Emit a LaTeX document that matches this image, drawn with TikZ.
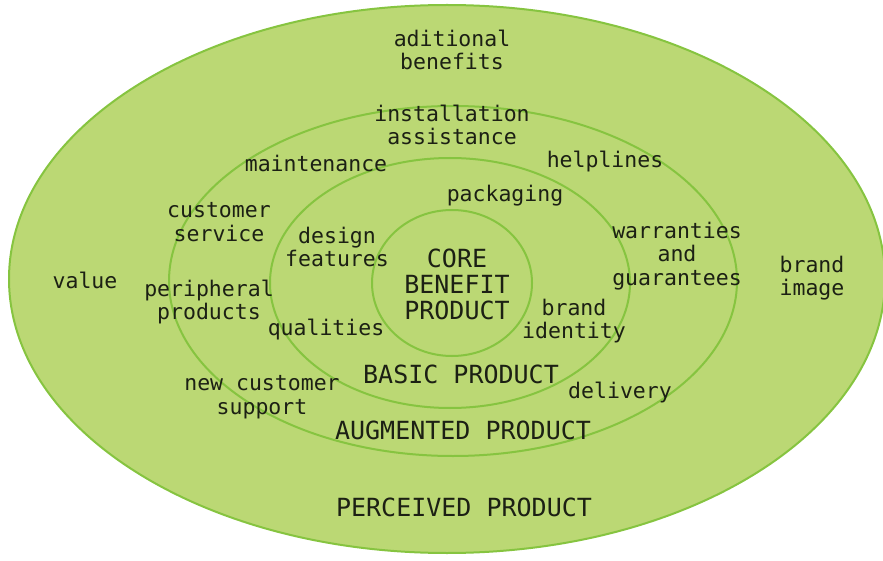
\documentclass[tikz,border=0pt]{standalone}
\usepackage{fontspec}
\newfontfamily\labelfont{DejaVu Sans Mono}
\definecolor{ringfill}{RGB}{187,216,116}
\definecolor{ringline}{RGB}{134,196,64}
\definecolor{inktext}{RGB}{28,32,20}

\begin{document}
\begin{tikzpicture}[x=1pt,y=-1pt,
ring/.style={draw=ringline,line width=2pt},
lbl/.style={inner sep=0pt,align=center,text=inktext,
  font=\labelfont\fontsize{21.5}{23.5}\selectfont},
biglbl/.style={inner sep=0pt,align=center,text=inktext,
  font=\labelfont\fontsize{25}{26}\selectfont}]
\useasboundingbox (0,0) rectangle (883,561);
% rings, outside in
\draw[ring,fill=ringfill] (447,279) ellipse [x radius=438pt,y radius=274pt];
\draw[ring] (453,281) ellipse [x radius=284pt,y radius=175pt];
\draw[ring] (450,283) ellipse [x radius=180pt,y radius=125pt];
\draw[ring] (452,283) ellipse [x radius=80pt,y radius=73pt];

\node[lbl] (aditional) at (452,50) {aditional\\benefits};
\node[lbl] (install) at (452,125) {installation\\assistance};
\node[lbl] (maint) at (316,163) {maintenance};
\node[lbl] (help) at (605,162) {helplines};
\node[lbl] (pack) at (505,196) {packaging};
\node[lbl] (custserv) at (219,222) {customer\\service};
\node[lbl] (design) at (337,247) {design\\features};
\node[biglbl] (core) at (457,284) {CORE\\BENEFIT\\PRODUCT};
\node[lbl] (warr) at (677,256) {warranties\\and\\guarantees};
\node[lbl] (brandimg) at (812,278) {brand\\image};
\node[lbl] (value) at (85,280) {value};
\node[lbl] (periph) at (209,302) {peripheral\\products};
\node[lbl] (qual) at (326,330) {qualities};
\node[lbl] (brandid) at (574,321) {brand\\identity};
\node[biglbl] (basic) at (461,374) {BASIC PRODUCT};
\node[lbl] (newcust) at (262,397) {new customer\\support};
\node[lbl] (deliv) at (620,393) {delivery};
\node[biglbl] (augm) at (463,430) {AUGMENTED PRODUCT};
\node[biglbl] (perc) at (464,507) {PERCEIVED PRODUCT};
\end{tikzpicture}
\end{document}
